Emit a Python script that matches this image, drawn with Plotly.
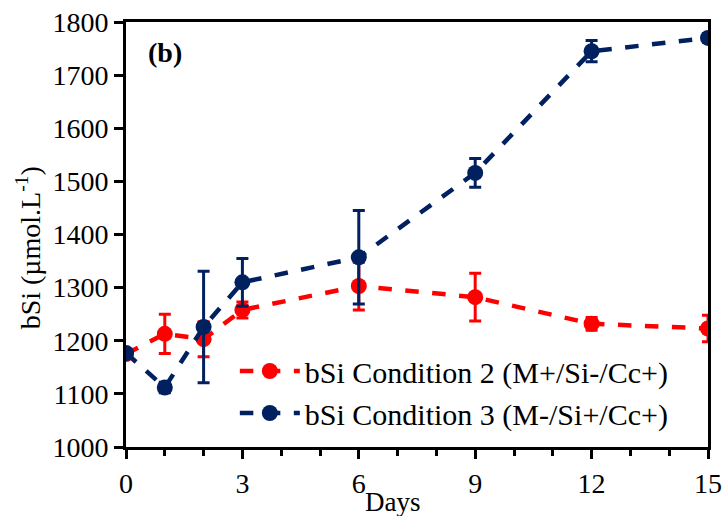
import plotly.graph_objects as go

days = [0, 1, 2, 3, 6, 9, 12, 15]
cond2 = [1175, 1213, 1203, 1258, 1303, 1282, 1232, 1223]
cond2_err = [5, 37, 33, 15, 45, 45, 12, 25]
cond3 = [1177, 1112, 1226, 1310, 1357, 1516, 1745, 1770]
cond3_err = [5, 10, 105, 45, 88, 27, 20, 8]

RED = "#FF0000"
BLUE = "#002060"
FONT = "Liberation Serif"

fig = go.Figure()
fig.add_trace(go.Scatter(
    x=days, y=cond2, mode="lines+markers",
    name="bSi Condition 2 (M+/Si-/Cc+)",
    line=dict(color=RED, width=4.5, dash="dash"),
    marker=dict(color=RED, size=16),
    error_y=dict(type="data", array=cond2_err, color=RED, thickness=3, width=6),
))
fig.add_trace(go.Scatter(
    x=days, y=cond3, mode="lines+markers",
    name="bSi Condition 3 (M-/Si+/Cc+)",
    line=dict(color=BLUE, width=4.5, dash="dash"),
    marker=dict(color=BLUE, size=16),
    error_y=dict(type="data", array=cond3_err, color=BLUE, thickness=3, width=6),
))

fig.update_layout(
    width=725, height=516,
    margin=dict(l=126, r=17, t=22, b=69, autoexpand=False),
    paper_bgcolor="white", plot_bgcolor="white",
    font=dict(family=FONT, size=28, color="black"),
    showlegend=True,
    legend=dict(x=0.187, y=0.24, xanchor="left", yanchor="top",
                bgcolor="rgba(0,0,0,0)", font=dict(size=30, family=FONT),
                itemwidth=60, tracegroupgap=0),
    annotations=[
        dict(text="<b>(b)</b>", x=0.035, y=0.97, xref="paper", yref="paper",
             xanchor="left", yanchor="top", showarrow=False,
             font=dict(size=28, family=FONT)),
        dict(text="Days", x=0.458, y=-0.13, xref="paper", yref="paper",
             xanchor="center", yanchor="middle", showarrow=False,
             font=dict(size=27, family=FONT)),
        dict(text="bSi (µmol.L<sup>-1</sup>)", x=-0.168, y=0.468, xref="paper", yref="paper",
             xanchor="center", yanchor="middle", showarrow=False, textangle=-90,
             font=dict(size=28, family=FONT)),
    ],
)
fig.update_xaxes(
    range=[0, 15], tickmode="linear", tick0=0, dtick=3,
    ticks="outside", ticklen=9, tickwidth=2.5, tickcolor="black",
    minor=dict(dtick=1, ticks="outside", ticklen=6, tickwidth=2.5, tickcolor="black"),
    showline=True, linecolor="black", linewidth=3, mirror=True,
    showgrid=False, zeroline=False, ticklabeloverflow="allow",
    tickfont=dict(size=28, family=FONT),
)
fig.update_yaxes(
    range=[1000, 1800], dtick=100,
    ticks="outside", ticklen=9, tickwidth=2.5, tickcolor="black",
    showline=True, linecolor="black", linewidth=3, mirror=True,
    showgrid=False, zeroline=False, ticklabeloverflow="allow",
    tickfont=dict(size=28, family=FONT),
)
fig.write_html("out.html", config={"displayModeBar": False},
               post_script="document.body.style.margin='0';")
